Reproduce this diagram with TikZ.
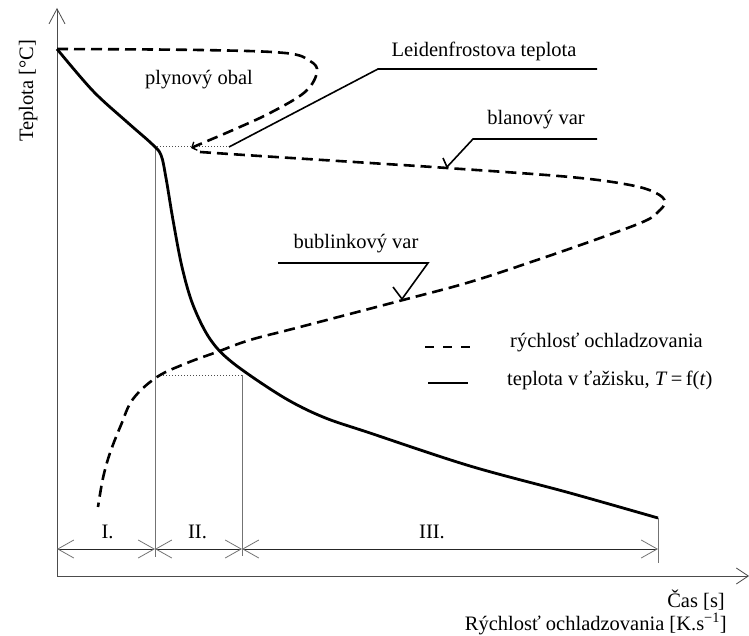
\documentclass[tikz,border=0pt]{standalone}
\usepackage{fontspec}
\setmainfont{Liberation Serif}
\usetikzlibrary{arrows.meta}
\begin{document}
\begin{tikzpicture}[x=1pt,y=-1pt,
  lbl/.style={inner sep=0pt,font=\fontsize{20.5}{24}\selectfont},
  axisline/.style={draw=black!70,line width=0.9pt},
  guide/.style={draw=black!55,line width=0.9pt},
  dimline/.style={draw=black!85,line width=0.9pt,{Straight Barb[length=16pt,width=18pt,line width=0.8pt,color=black!55]}-{Straight Barb[length=16pt,width=18pt,line width=0.8pt,color=black!55]}},
  tempcurve/.style={draw=black,line width=2.8pt,line join=round},
  ratecurve/.style={draw=black,line width=2.6pt,dash pattern=on 11pt off 6pt},
  leader/.style={draw=black,line width=1.6pt},
  dots/.style={draw=black!70,line width=1pt,dotted}]
\useasboundingbox (0,0) rectangle (749,636);

% named points
\coordinate (O) at (57,576);
\coordinate (Ytop) at (57,8);
\coordinate (Xend) at (749,576);
\coordinate (L1) at (57,549);
\coordinate (L2) at (155,549);
\coordinate (L3) at (242,549);
\coordinate (L4) at (658,549);
\coordinate (V1t) at (155,147);
\coordinate (V1b) at (155,557);
\coordinate (V2t) at (242,375);
\coordinate (V2b) at (242,556);
\coordinate (V3t) at (658,518);
\coordinate (V3b) at (658,563);
\coordinate (D1a) at (157,147);
\coordinate (D1b) at (230,147);
\coordinate (D2a) at (157,375);
\coordinate (D2b) at (242,375);

% axes
\draw[axisline,-{Straight Barb[length=15pt,width=16pt,line width=0.8pt]}] (O) -- (Ytop);
\draw[axisline,-{Straight Barb[length=12pt,width=16pt,line width=0.8pt]}] (O) -- (Xend);

% guide verticals
\draw[guide] (V1t) -- (V1b);
\draw[guide] (V2t) -- (V2b);
\draw[guide] (V3t) -- (V3b);

% dotted horizontals
\draw[dots] (D1a) -- (D1b);
\draw[dots] (D2a) -- (D2b);

% dimension arrows
\draw[dimline] (L1) -- (L2);
\draw[dimline] (L2) -- (L3);
\draw[dimline] (L3) -- (L4);

% temperature curve
\draw[tempcurve] plot[smooth,tension=0.55] coordinates {
 (57,49) (93,91) (127,122) (152,144) (161,155) (166,178) (173,220) (182,267)
 (193,305) (210,339) (233,363) (283,397) (323,417) (370,433) (470,466) (570,493) (658,518)};

% cooling rate curve - upper loop (gas envelope)
\draw[ratecurve,-{Straight Barb[length=4pt,width=9pt,line width=1.4pt]}] plot[smooth,tension=0.6] coordinates {
 (57,49) (200,50) (285,53) (310,61) (317,72) (305,92) (270,113) (233,130) (205,142) (191,148)};

% cooling rate curve - lower part
\draw[ratecurve] plot[smooth,tension=0.6] coordinates {
 (200,152) (260,156) (370,163) (447,168) (570,177) (630,185) (656,193) (665,202)
 (658,212) (645,221) (603,237) (537,260) (470,282) (403,300) (300,327)
 (250,340) (217,352) (187,363) (157,377) (133,399) (121,425) (110,453) (103,478) (98,507)};

% leaders
\coordinate (LFa) at (229,147);
\coordinate (LFb) at (378,69);
\coordinate (LFc) at (597,69);
\draw[leader] (LFa) -- (LFb) -- (LFc);

\coordinate (BVt) at (443,158);
\coordinate (BVa) at (447,167);
\coordinate (BVb) at (473,139);
\coordinate (BVc) at (597,139);
\draw[leader,line join=miter] (BVt) -- (BVa) -- (BVb) -- (BVc);

\coordinate (BBt) at (393,287);
\coordinate (BBa) at (402,299);
\coordinate (BBb) at (428,263);
\coordinate (BBc) at (278,263);
\draw[leader,line join=miter] (BBt) -- (BBa) -- (BBb) -- (BBc);

% legend
\coordinate (LG1a) at (425,347);
\coordinate (LG1b) at (472,347);
\coordinate (LG2a) at (428,383);
\coordinate (LG2b) at (468,383);
\draw[ratecurve,line width=1.8pt,dash pattern=on 9pt off 9pt] (LG1a) -- (LG1b);
\draw[leader,line width=1.8pt] (LG2a) -- (LG2b);

% labels
\node[lbl,anchor=base] (tLF) at (484,57) {Leidenfrostova teplota};
\node[lbl,anchor=base] (tBV) at (536,125) {blanový var};
\node[lbl,anchor=base] (tBB) at (356,248) {bublinkový var};
\node[lbl,anchor=base] (tPO) at (199,85) {plynový obal};
\node[lbl,anchor=base west] (tR) at (510,347) {rýchlosť ochladzovania};
\node[lbl,anchor=base west] (tT) at (507,385) {teplota v ťažisku, \textit{T}\,=\,f(\textit{t})};
\node[lbl,anchor=base] (tI) at (107.5,538) {I.};
\node[lbl,anchor=base] (tII) at (197.5,538) {II.};
\node[lbl,anchor=base] (tIII) at (432,538) {III.};
\node[lbl,anchor=base,rotate=90] (tY) at (33,91) {Teplota [°C]};
\node[lbl,anchor=base east] (tX1) at (725,607) {Čas [s]};
\node[lbl,anchor=base east] (tX2) at (727,630) {Rýchlosť ochladzovania [K.s\textsuperscript{−1}]};
\end{tikzpicture}
\end{document}
